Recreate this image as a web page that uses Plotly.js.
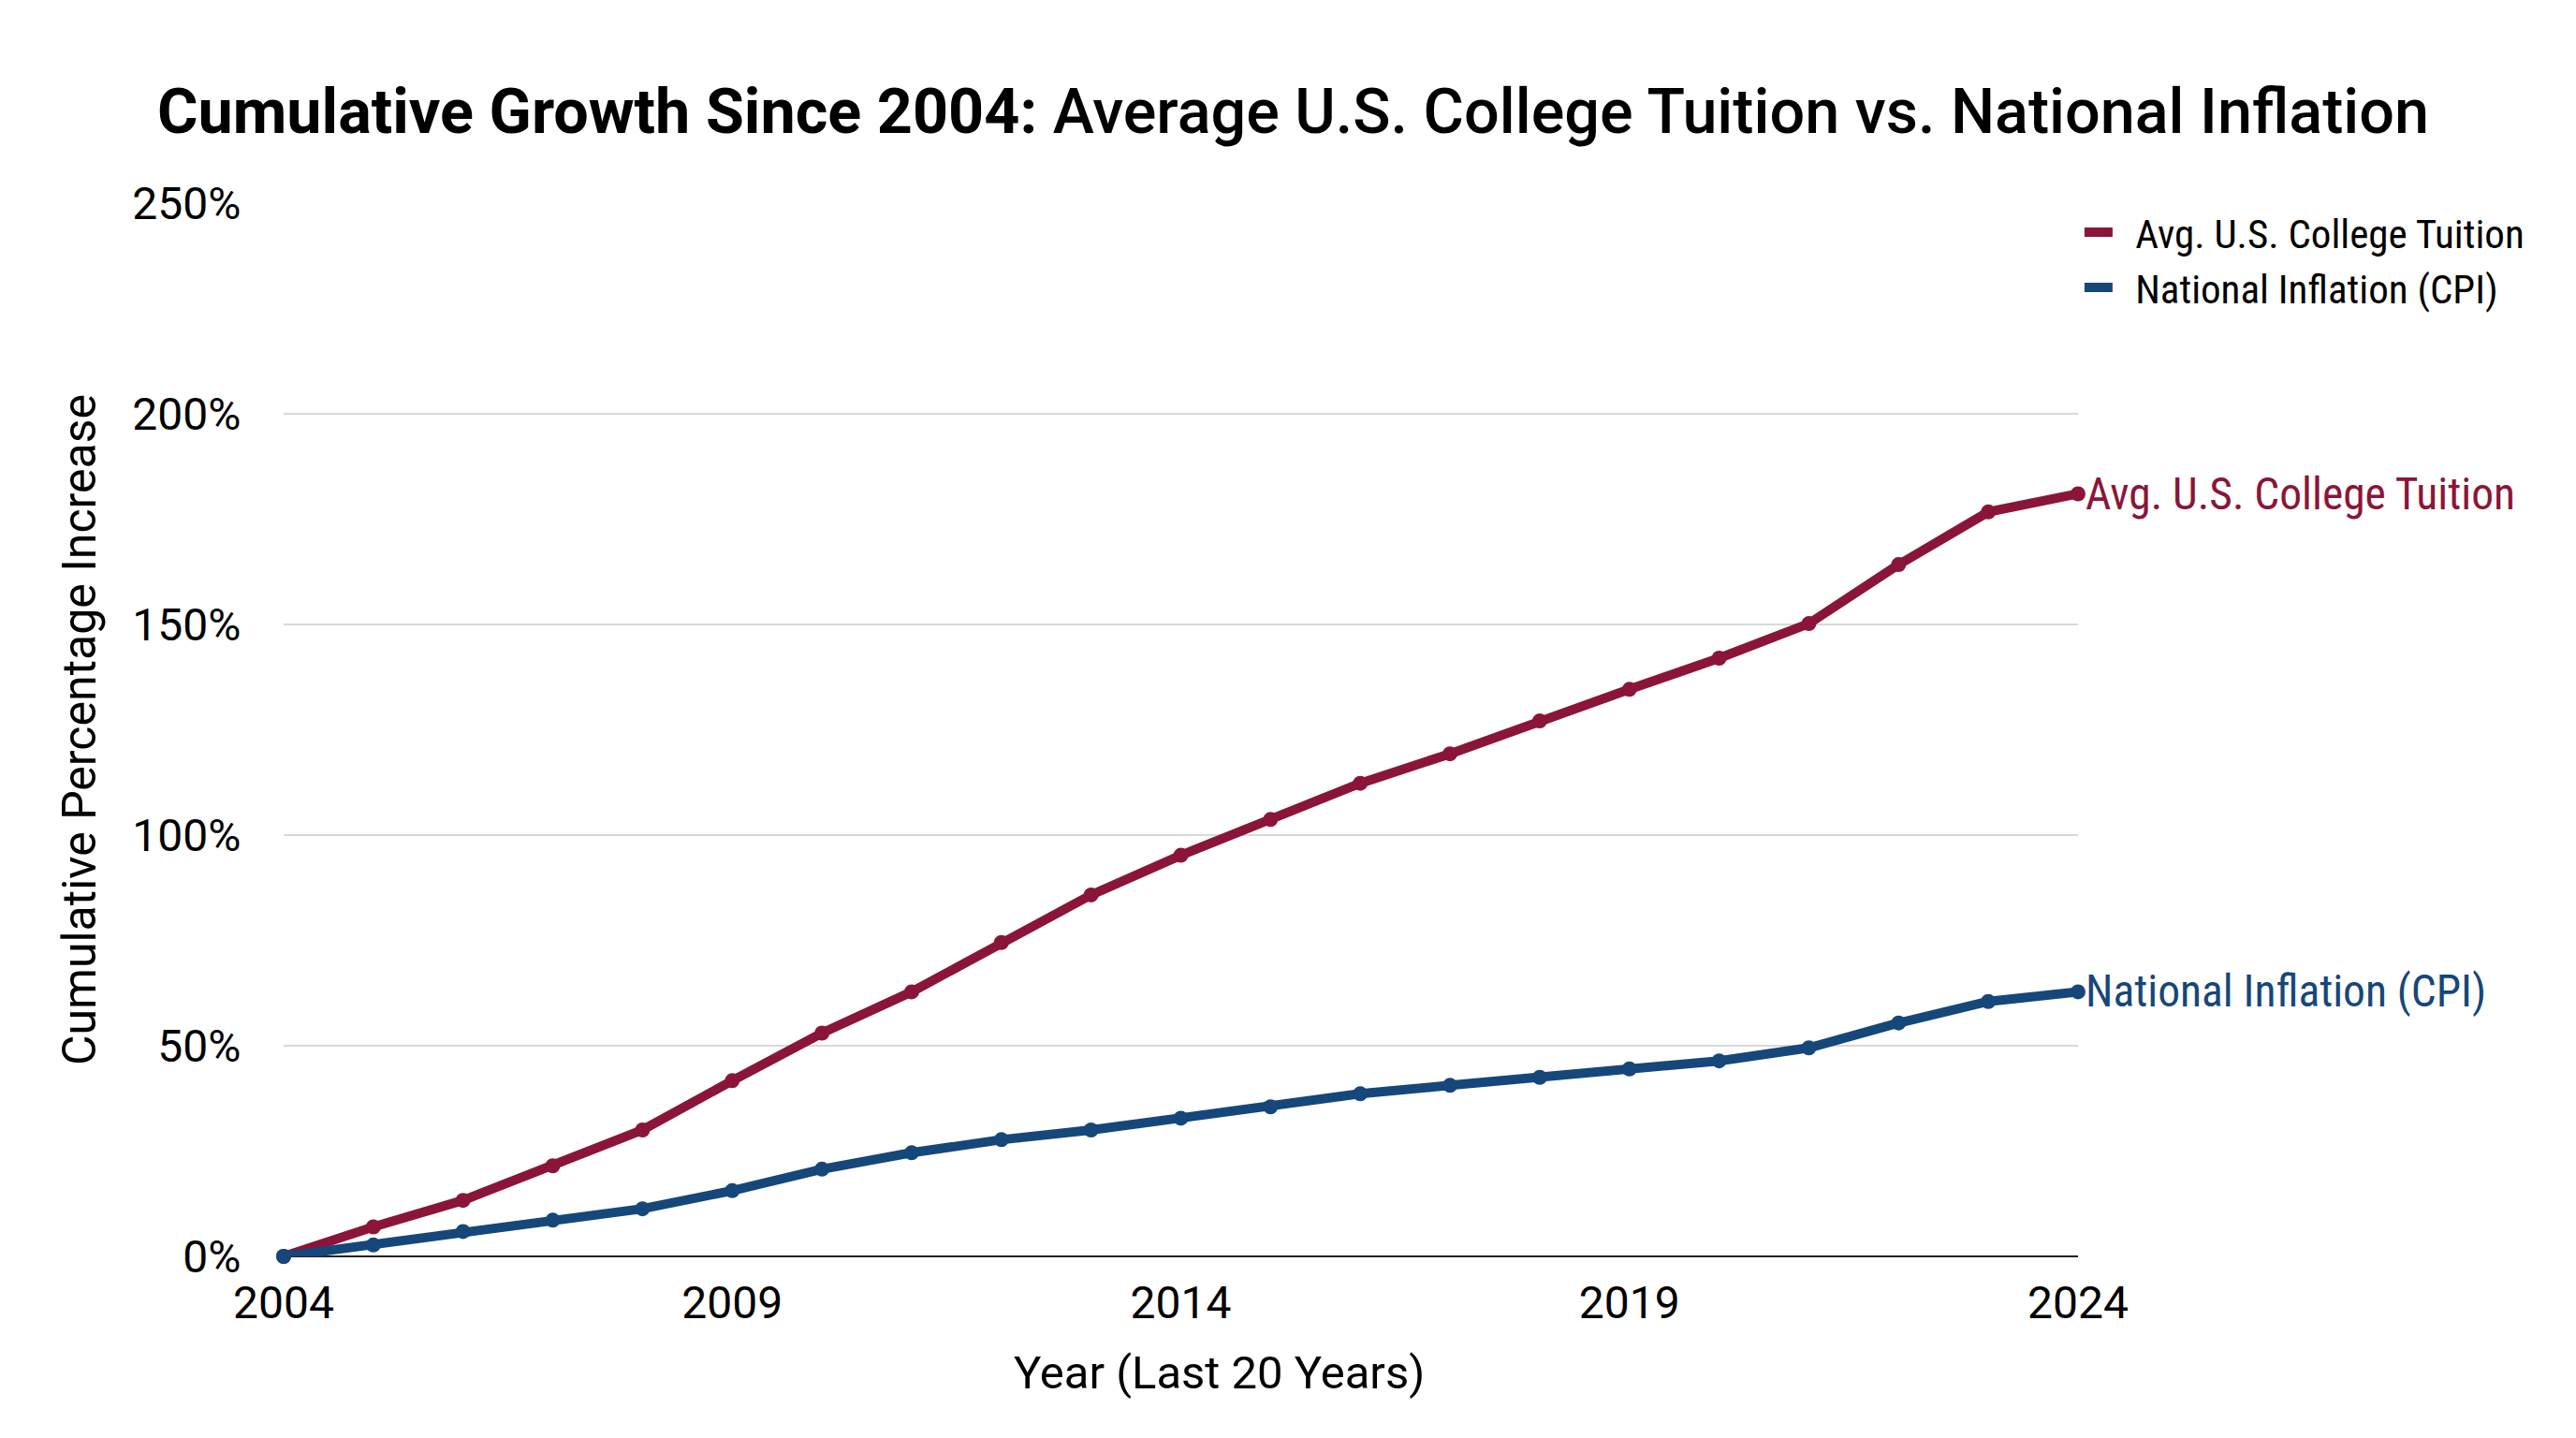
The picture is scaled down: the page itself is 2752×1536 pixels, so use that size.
<!DOCTYPE html>
<html>
<head>
<meta charset="utf-8">
<script src="https://cdn.plot.ly/plotly-3.0.1.min.js"></script>
<style>
  html, body { margin: 0; padding: 0; background: #ffffff; }
  #chart { width: 2752px; height: 1536px; }
</style>
</head>
<body>
<div id="chart"></div>
<script>
// ------------------------------------------------------------------------------
// DATA

const years = [2004, 2005, 2006, 2007, 2008, 2009, 2010, 2011, 2012, 2013, 2014,
               2015, 2016, 2017, 2018, 2019, 2020, 2021, 2022, 2023, 2024];

// cumulative % increase since 2004
const tuition = [0, 7.0, 13.3, 21.5, 30.0, 41.7, 53.0, 62.8, 74.5, 85.8, 95.2,
                 103.7, 112.3, 119.3, 127.1, 134.6, 142.0, 150.2, 164.2, 176.7, 181.0];
const cpi     = [0, 2.7, 5.9, 8.6, 11.3, 15.6, 20.7, 24.6, 27.7, 30.0, 32.8,
                 35.5, 38.6, 40.6, 42.5, 44.5, 46.4, 49.5, 55.4, 60.5, 62.8];

const seriesNames = ['Avg. U.S. College Tuition', 'National Inflation (CPI)'];
const xTicks      = [2004, 2009, 2014, 2019, 2024];
const yTicks      = [0, 50, 100, 150, 200, 250];

// ------------------------------------------------------------------------------
// STYLE

const red  = '#8B1538';
const blue = '#15477A';
const font_family = 'Roboto, "Noto Sans", sans-serif';
const narrow_family = '"Roboto Condensed", "Liberation Sans Narrow", "DejaVu Sans Condensed", Roboto, sans-serif';

function lineTrace(y, name, color) {
    return {
        x: years,
        y: y,
        name: name,
        mode: 'lines+markers',
        type: 'scatter',
        line: { color: color, width: 10 },
        marker: { color: color, size: 16 },
        cliponaxis: false,
        showlegend: false,
        hoverinfo: 'none'
    };
}

// legend-only entries (plain line symbol, no marker)
function legendTrace(name, color) {
    return {
        x: [null],
        y: [null],
        name: '\u2002' + name,
        mode: 'lines',
        type: 'scatter',
        line: { color: color, width: 10 },
        hoverinfo: 'none'
    };
}

const data = [
    lineTrace(tuition, seriesNames[0], red),
    lineTrace(cpi, seriesNames[1], blue),
    legendTrace(seriesNames[0], red),
    legendTrace(seriesNames[1], blue)
];

const last = years.length - 1;

const layout = {
    width: 2752,
    height: 1536,
    paper_bgcolor: '#ffffff',
    plot_bgcolor: '#ffffff',
    font: { family: font_family, color: '#000000', size: 48 },
    margin: { l: 303, r: 532, t: 217, b: 194, pad: 0 },
    title: {
        text: '<b>Cumulative Growth Since 2004:</b> Average U.S. College Tuition vs. National Inflation',
        font: { family: font_family, size: 66.5, color: '#000000', weight: 500 },
        x: 0.502,
        xanchor: 'center',
        y: 0.923,
        yanchor: 'middle'
    },
    xaxis: {
        range: [2004, 2024],
        tickvals: xTicks,
        ticktext: xTicks.map(String),
        showgrid: false,
        zeroline: false,
        showline: false,
        ticks: 'outside',
        ticklen: 7,
        tickcolor: 'rgba(0,0,0,0)',
        tickfont: { size: 48 }
    },
    yaxis: {
        range: [0, 250],
        tickvals: yTicks,
        ticktext: yTicks.map(v => v + '%'),
        showgrid: true,
        gridcolor: '#d9d9d9',
        gridwidth: 2,
        zeroline: true,
        zerolinecolor: '#222222',
        zerolinewidth: 2,
        ticks: 'outside',
        ticklen: 35,
        tickcolor: 'rgba(0,0,0,0)',
        tickfont: { size: 48 },
        title: { text: 'Cumulative Percentage Increase', font: { size: 50 }, standoff: 22 }
    },
    legend: {
        x: 1.001,
        xanchor: 'left',
        y: 1.003,
        yanchor: 'top',
        bgcolor: 'rgba(0,0,0,0)',
        font: { family: narrow_family, size: 43, color: '#000000' },
        itemwidth: 30,
        tracegroupgap: 12
    },
    annotations: [
        {
            // x-axis title, sits a little right of the plot centre
            x: 0.5, y: 0,
            xref: 'paper', yref: 'paper',
            text: 'Year (Last 20 Years)',
            showarrow: false,
            xanchor: 'center', yanchor: 'middle',
            xshift: 41, yshift: -124,
            font: { family: font_family, size: 49, color: '#000000' }
        },
        {
            x: years[last], y: tuition[last],
            xref: 'x', yref: 'y',
            text: seriesNames[0],
            showarrow: false,
            xanchor: 'left', yanchor: 'middle',
            xshift: 6,
            font: { family: narrow_family, size: 47.5, color: red }
        },
        {
            x: years[last], y: cpi[last],
            xref: 'x', yref: 'y',
            text: seriesNames[1],
            showarrow: false,
            xanchor: 'left', yanchor: 'middle',
            xshift: 6,
            font: { family: narrow_family, size: 47.5, color: blue }
        }
    ]
};

Plotly.newPlot('chart', data, layout, { displayModeBar: false, staticPlot: true });
</script>
</body>
</html>
